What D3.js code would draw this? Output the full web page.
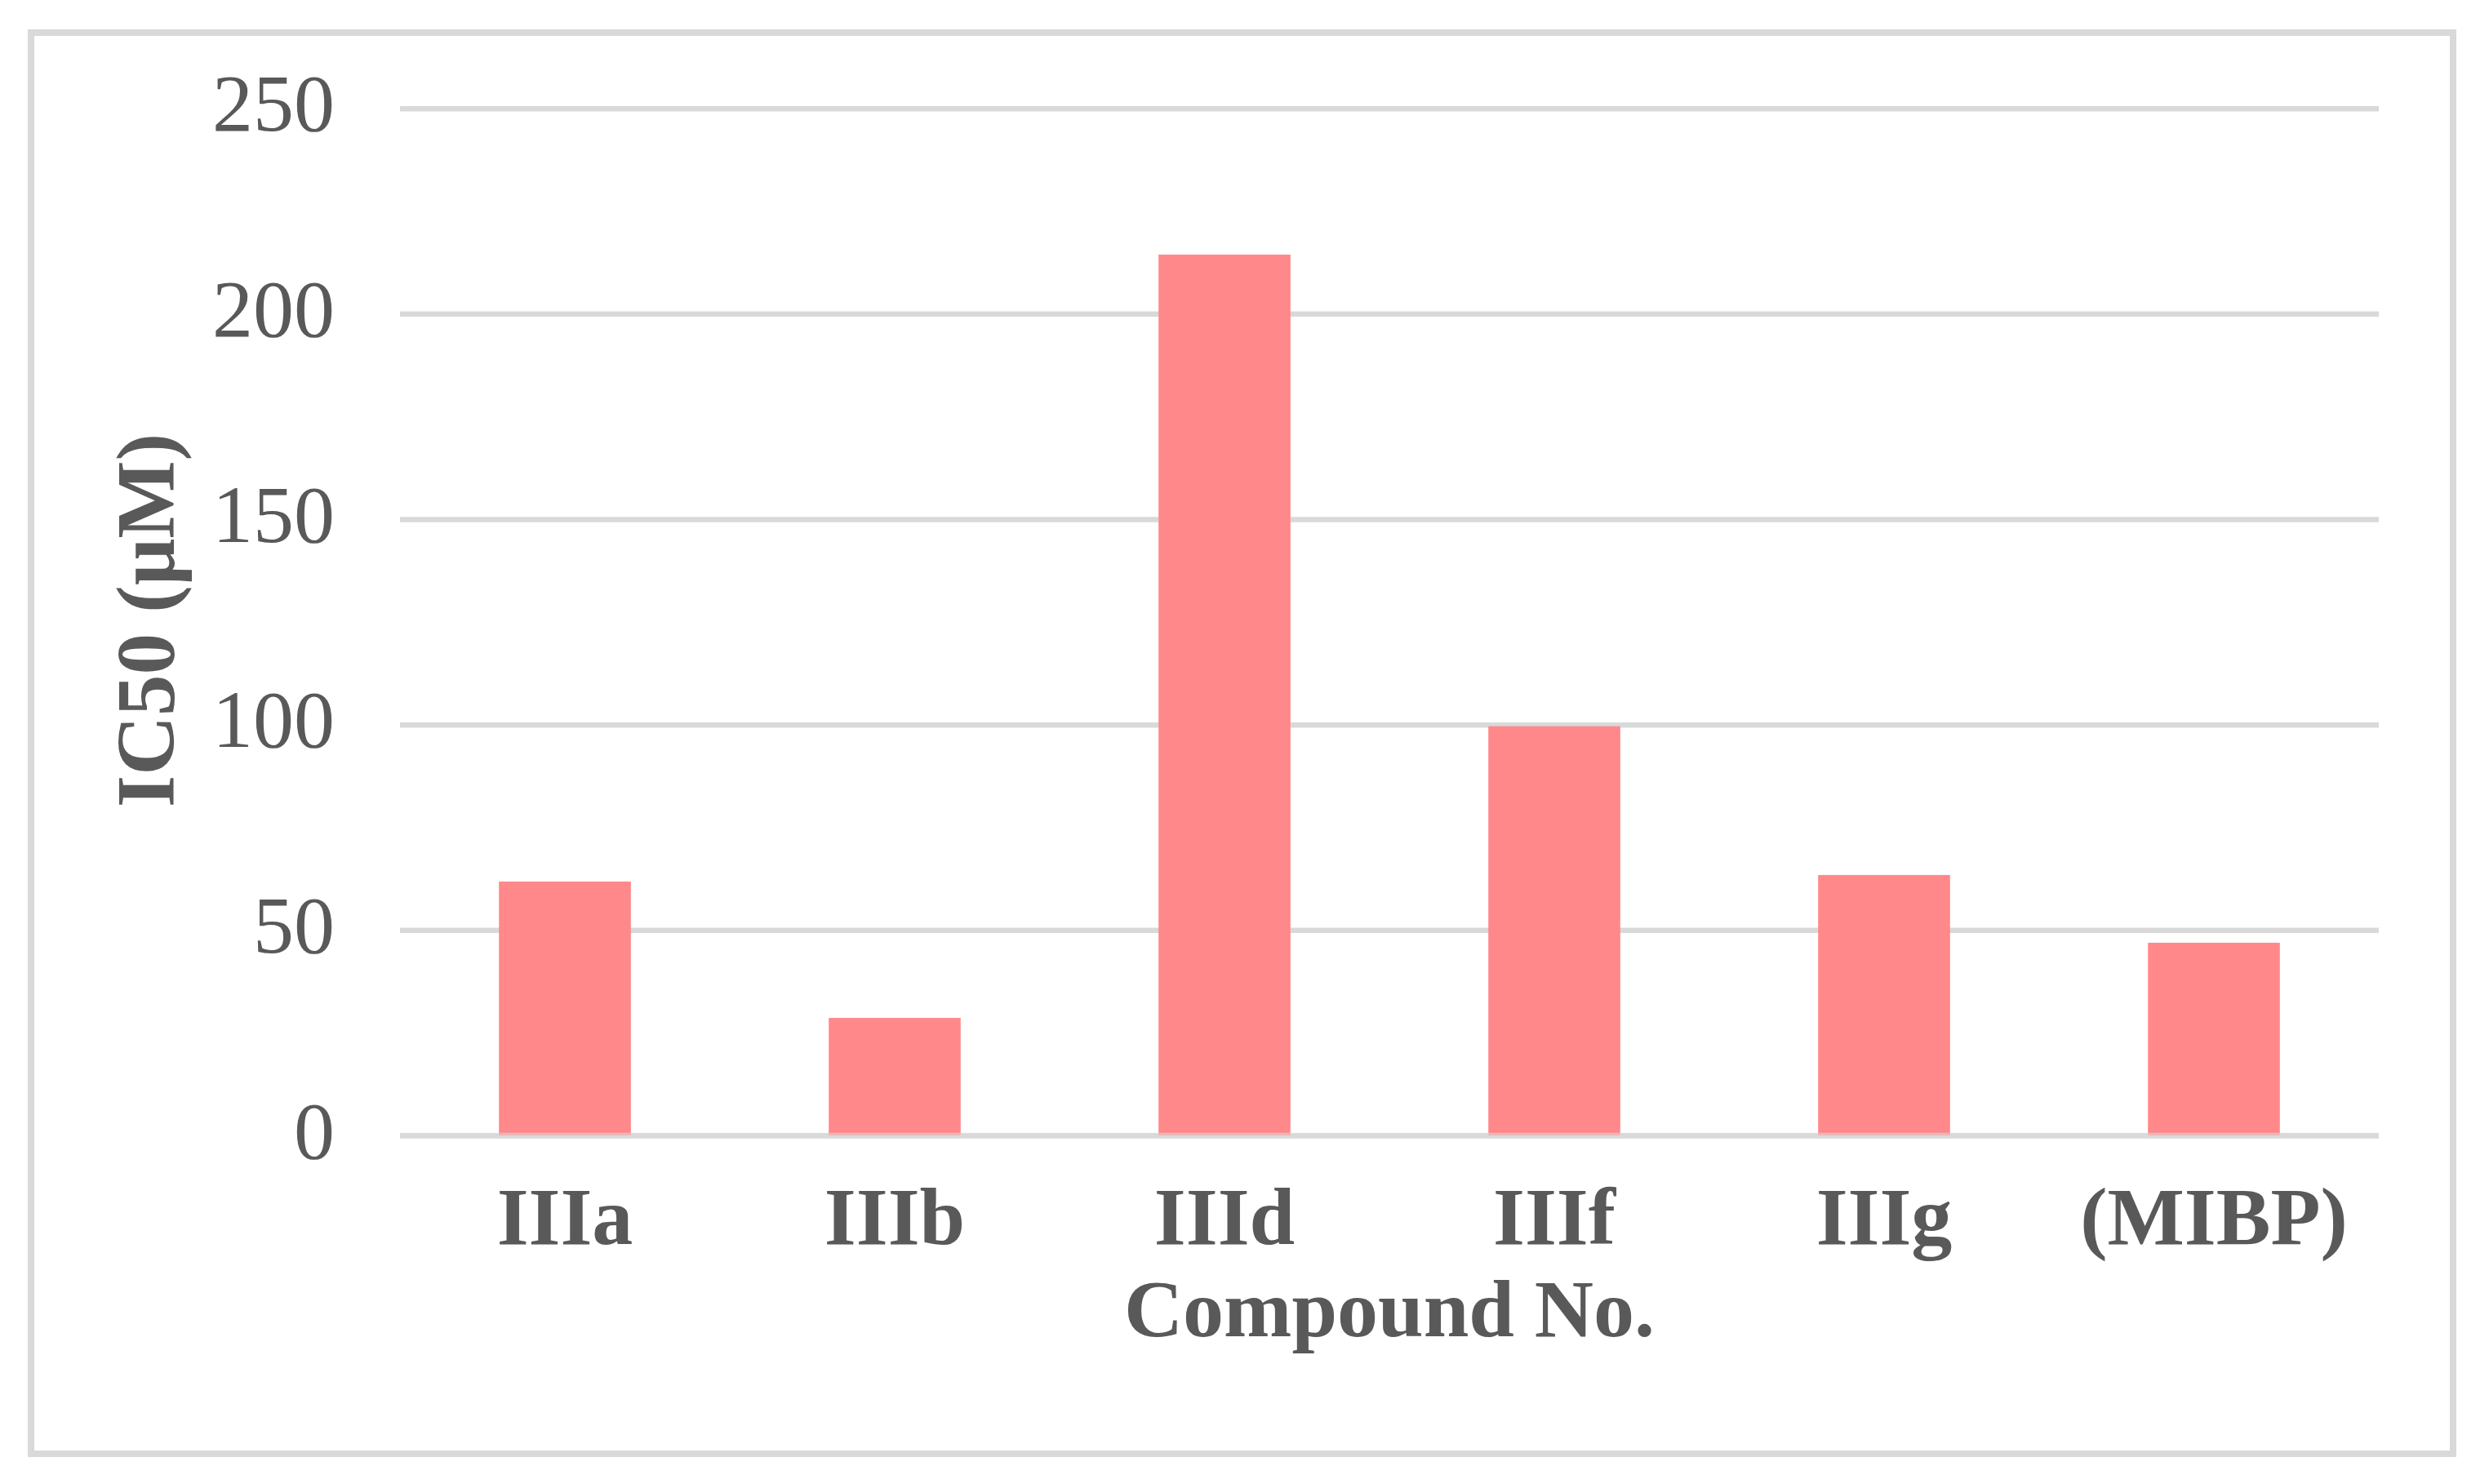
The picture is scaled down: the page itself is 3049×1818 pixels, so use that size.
<!DOCTYPE html>
<html>
<head>
<meta charset="utf-8">
<script src="https://cdn.jsdelivr.net/npm/d3@7"></script>
<style>
  html, body { margin: 0; padding: 0; background: #ffffff; }
  svg { display: block; }
</style>
</head>
<body>
<script>
// ---- data ----
const categories = ["IIIa", "IIIb", "IIId", "IIIf", "IIIg", "(MIBP)"];
const ic50Values = [61.8, 28.6, 214.4, 99.6, 63.4, 46.9];
const yTickValues = [0, 50, 100, 150, 200, 250];
const yAxisTitle = "IC50 (μM)";
const xAxisTitle = "Compound No.";

// ---- layout ----
const W = 3049, H = 1818;
const plot = { left: 490, right: 2914, top: 132.7, bottom: 1391 };
const textColor = "#595959";
const gridColor = "#d9d9d9";
const barColor = "#ff888a";
const fontFamily = "'Liberation Serif', 'Times New Roman', Times, serif";

const svg = d3.select("body").append("svg")
  .attr("width", W).attr("height", H);

// outer frame
svg.append("rect")
  .attr("x", 38).attr("y", 40)
  .attr("width", 2967).attr("height", 1741)
  .attr("fill", "#ffffff")
  .attr("stroke", gridColor).attr("stroke-width", 8);

const x = d3.scaleBand()
  .domain(categories)
  .range([plot.left, plot.right])
  .paddingInner(0.6)
  .paddingOuter(0.3);

const y = d3.scaleLinear()
  .domain([0, 250])
  .range([plot.bottom, plot.top]);

// y axis with gridlines
const yAxis = d3.axisLeft(y)
  .tickValues(yTickValues)
  .tickFormat(d3.format("d"))
  .tickSizeInner(-(plot.right - plot.left))
  .tickSizeOuter(0)
  .tickPadding(80);

const gy = svg.append("g")
  .attr("transform", `translate(${plot.left},0)`)
  .call(yAxis);
gy.select(".domain").remove();
gy.selectAll(".tick line")
  .attr("stroke", gridColor)
  .attr("stroke-width", 6.5);
gy.selectAll(".tick text")
  .attr("fill", textColor)
  .attr("font-family", fontFamily)
  .attr("font-size", 100)
  .attr("dy", "0.27em");

// bars
svg.append("g").selectAll("rect")
  .data(categories.map((c, i) => ({ c, v: ic50Values[i] })))
  .join("rect")
  .attr("x", d => x(d.c))
  .attr("width", x.bandwidth())
  .attr("y", d => y(d.v))
  .attr("height", d => y(0) - y(d.v))
  .attr("fill", barColor);

// zero baseline over bar bottoms
svg.append("line")
  .attr("x1", plot.left).attr("x2", plot.right)
  .attr("y1", y(0)).attr("y2", y(0))
  .attr("stroke", gridColor).attr("stroke-width", 6.5)
  .attr("stroke-opacity", 0.6);

// x axis labels
const xAxis = d3.axisBottom(x).tickSize(0).tickPadding(62);
const gx = svg.append("g")
  .attr("transform", `translate(0,${plot.bottom})`)
  .call(xAxis);
gx.select(".domain").remove();
gx.selectAll(".tick text")
  .attr("fill", textColor)
  .attr("font-family", fontFamily)
  .attr("font-weight", "bold")
  .attr("font-size", 100);

// axis titles
svg.append("text")
  .attr("transform", `translate(213,760) rotate(-90)`)
  .attr("text-anchor", "middle")
  .attr("fill", textColor)
  .attr("font-family", fontFamily)
  .attr("font-weight", "bold")
  .attr("font-size", 101)
  .text(yAxisTitle);

svg.append("text")
  .attr("x", (plot.left + plot.right) / 2)
  .attr("y", 1637)
  .attr("text-anchor", "middle")
  .attr("fill", textColor)
  .attr("font-family", fontFamily)
  .attr("font-weight", "bold")
  .attr("font-size", 100)
  .text(xAxisTitle);
</script>
</body>
</html>
